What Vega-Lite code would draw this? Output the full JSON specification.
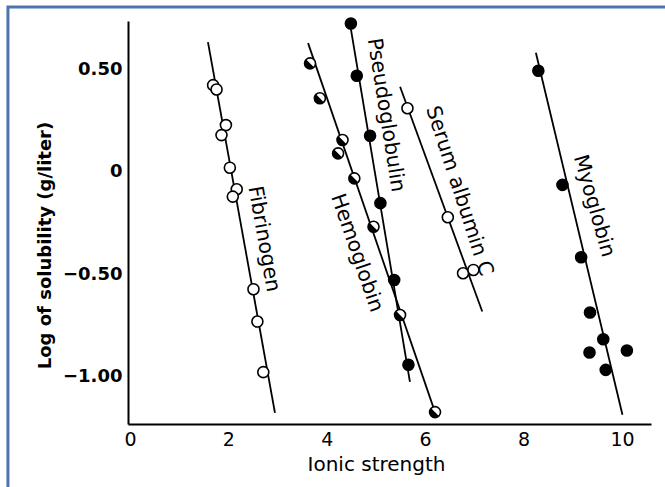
{
  "$schema": "https://vega.github.io/schema/vega-lite/v6.json",
  "width": 523,
  "height": 403,
  "autosize": {"type": "none"},
  "padding": {"left": 128, "top": 21, "right": 14, "bottom": 63},
  "background": "white",
  "config": {"view": {"stroke": null}, "font": "DejaVu Sans"},
  "datasets": {
    "points": [
      {"protein": "Fibrinogen", "kind": "open", "ionic": 1.69, "logsol": 0.424},
      {"protein": "Fibrinogen", "kind": "open", "ionic": 1.76, "logsol": 0.403},
      {"protein": "Fibrinogen", "kind": "open", "ionic": 1.95, "logsol": 0.229},
      {"protein": "Fibrinogen", "kind": "open", "ionic": 1.86, "logsol": 0.18},
      {"protein": "Fibrinogen", "kind": "open", "ionic": 2.03, "logsol": 0.021},
      {"protein": "Fibrinogen", "kind": "open", "ionic": 2.17, "logsol": -0.084},
      {"protein": "Fibrinogen", "kind": "open", "ionic": 2.09, "logsol": -0.12},
      {"protein": "Fibrinogen", "kind": "open", "ionic": 2.51, "logsol": -0.572},
      {"protein": "Fibrinogen", "kind": "open", "ionic": 2.59, "logsol": -0.73},
      {"protein": "Fibrinogen", "kind": "open", "ionic": 2.71, "logsol": -0.977},
      {"protein": "Hemoglobin", "kind": "half", "ionic": 3.66, "logsol": 0.53},
      {"protein": "Hemoglobin", "kind": "half", "ionic": 3.86, "logsol": 0.36},
      {"protein": "Hemoglobin", "kind": "half", "ionic": 4.32, "logsol": 0.156},
      {"protein": "Hemoglobin", "kind": "half", "ionic": 4.23, "logsol": 0.091},
      {"protein": "Hemoglobin", "kind": "half", "ionic": 4.56, "logsol": -0.031},
      {"protein": "Hemoglobin", "kind": "half", "ionic": 4.95, "logsol": -0.267},
      {"protein": "Hemoglobin", "kind": "half", "ionic": 5.49, "logsol": -0.698},
      {"protein": "Hemoglobin", "kind": "half", "ionic": 6.2, "logsol": -1.172},
      {"protein": "Pseudoglobulin", "kind": "filled", "ionic": 4.49, "logsol": 0.725},
      {"protein": "Pseudoglobulin", "kind": "filled", "ionic": 4.61, "logsol": 0.47},
      {"protein": "Pseudoglobulin", "kind": "filled", "ionic": 4.88, "logsol": 0.177},
      {"protein": "Pseudoglobulin", "kind": "filled", "ionic": 5.09, "logsol": -0.152},
      {"protein": "Pseudoglobulin", "kind": "filled", "ionic": 5.37, "logsol": -0.527},
      {"protein": "Pseudoglobulin", "kind": "filled", "ionic": 5.66, "logsol": -0.941},
      {"protein": "Serum albumin C", "kind": "open", "ionic": 5.64, "logsol": 0.311},
      {"protein": "Serum albumin C", "kind": "open", "ionic": 6.46, "logsol": -0.221},
      {"protein": "Serum albumin C", "kind": "open", "ionic": 6.77, "logsol": -0.494},
      {"protein": "Serum albumin C", "kind": "open", "ionic": 6.98, "logsol": -0.478},
      {"protein": "Myoglobin", "kind": "filled", "ionic": 8.3, "logsol": 0.494},
      {"protein": "Myoglobin", "kind": "filled", "ionic": 8.79, "logsol": -0.063},
      {"protein": "Myoglobin", "kind": "filled", "ionic": 9.17, "logsol": -0.416},
      {"protein": "Myoglobin", "kind": "filled", "ionic": 9.35, "logsol": -0.686},
      {"protein": "Myoglobin", "kind": "filled", "ionic": 9.62, "logsol": -0.816},
      {"protein": "Myoglobin", "kind": "filled", "ionic": 9.34, "logsol": -0.881},
      {"protein": "Myoglobin", "kind": "filled", "ionic": 10.1, "logsol": -0.871},
      {"protein": "Myoglobin", "kind": "filled", "ionic": 9.67, "logsol": -0.966}
    ],
    "lines": [
      {"protein": "Fibrinogen", "ionic": 1.585, "logsol": 0.634},
      {"protein": "Fibrinogen", "ionic": 2.947, "logsol": -1.176},
      {"protein": "Hemoglobin", "ionic": 3.62, "logsol": 0.629},
      {"protein": "Hemoglobin", "ionic": 6.2, "logsol": -1.172},
      {"protein": "Pseudoglobulin", "ionic": 4.47, "logsol": 0.727},
      {"protein": "Pseudoglobulin", "ionic": 5.69, "logsol": -1.024},
      {"protein": "Serum albumin C", "ionic": 5.49, "logsol": 0.416},
      {"protein": "Serum albumin C", "ionic": 7.16, "logsol": -0.681},
      {"protein": "Myoglobin", "ionic": 8.25, "logsol": 0.582},
      {"protein": "Myoglobin", "ionic": 10.01, "logsol": -1.185}
    ],
    "labels": [
      {"protein": "Fibrinogen", "ionic": 2.72, "logsol": -0.327},
      {"protein": "Pseudoglobulin", "ionic": 5.2, "logsol": 0.278},
      {"protein": "Hemoglobin", "ionic": 4.61, "logsol": -0.395},
      {"protein": "Serum albumin C", "ionic": 6.69, "logsol": -0.093},
      {"protein": "Myoglobin", "ionic": 9.43, "logsol": -0.166}
    ]
  },
  "layer": [
    {
      "data": {"values": [{}]},
      "mark": {"type": "rect", "fill": null, "stroke": "#4f72b0", "strokeWidth": 3, "clip": false},
      "encoding": {
        "x": {"datum": -2.48, "type": "quantitative", "scale": {"domain": [-0.04, 10.59], "nice": false, "zero": false}},
        "x2": {"datum": 11.3},
        "y": {"datum": 0.805, "type": "quantitative", "scale": {"domain": [-1.23, 0.737], "nice": false, "zero": false}},
        "y2": {"datum": -1.7}
      }
    },
    {
      "data": {"name": "lines"},
      "mark": {"type": "line", "color": "black", "strokeWidth": 1.8},
      "encoding": {
        "x": {"field": "ionic", "type": "quantitative", "scale": {"domain": [-0.04, 10.59], "nice": false, "zero": false},
          "axis": {"title": "Ionic strength", "values": [0, 2, 4, 6, 8, 10], "ticks": false, "grid": false, "domainColor": "black", "domainWidth": 2,
            "labelFont": "DejaVu Sans", "labelFontSize": 19, "labelColor": "black", "labelPadding": 6,
            "titleFont": "DejaVu Sans", "titleFontSize": 20, "titleFontWeight": "normal", "titleColor": "black", "titlePadding": 5, "titleX": 248}},
        "y": {"field": "logsol", "type": "quantitative", "scale": {"domain": [-1.23, 0.737], "nice": false, "zero": false},
          "axis": {"title": "Log of solubility (g/liter)", "values": [0.5, 0, -0.5, -1], "ticks": false, "grid": false, "domainColor": "black", "domainWidth": 2,
            "labelExpr": "datum.value == 0 ? '0' : format(datum.value, '.2f')",
            "labelFont": "DejaVu Sans", "labelFontSize": 18, "labelFontWeight": "bold", "labelColor": "black", "labelPadding": 6,
            "titleFont": "DejaVu Sans", "titleFontSize": 18, "titleFontWeight": "bold", "titleColor": "black", "titleX": -74, "titleY": 224}},
        "detail": {"field": "protein"}
      }
    },
    {
      "data": {"name": "points"},
      "mark": {"type": "point", "shape": "circle", "size": 121, "stroke": "black", "strokeWidth": 1.6, "opacity": 1},
      "encoding": {
        "x": {"field": "ionic", "type": "quantitative"},
        "y": {"field": "logsol", "type": "quantitative"},
        "fill": {"field": "kind", "type": "nominal", "scale": {"domain": ["open", "half", "filled"], "range": ["white", "white", "black"]}, "legend": null}
      }
    },
    {
      "data": {"name": "points"},
      "transform": [{"filter": "datum.kind == 'half'"}],
      "mark": {"type": "point", "shape": "M -0.707 -0.707 A 1 1 0 0 0 0.707 0.707 Z", "size": 121, "fill": "black", "filled": true, "strokeWidth": 0, "opacity": 1},
      "encoding": {
        "x": {"field": "ionic", "type": "quantitative"},
        "y": {"field": "logsol", "type": "quantitative"}
      }
    },
    {
      "data": {"name": "labels"},
      "transform": [{"filter": "datum.protein == 'Fibrinogen'"}],
      "mark": {"type": "text", "angle": 80, "font": "DejaVu Sans", "fontSize": 20.5, "color": "black", "align": "center", "baseline": "middle"},
      "encoding": {"x": {"field": "ionic", "type": "quantitative"}, "y": {"field": "logsol", "type": "quantitative"}, "text": {"field": "protein"}}
    },
    {
      "data": {"name": "labels"},
      "transform": [{"filter": "datum.protein == 'Pseudoglobulin'"}],
      "mark": {"type": "text", "angle": 81, "font": "DejaVu Sans", "fontSize": 20.5, "color": "black", "align": "center", "baseline": "middle"},
      "encoding": {"x": {"field": "ionic", "type": "quantitative"}, "y": {"field": "logsol", "type": "quantitative"}, "text": {"field": "protein"}}
    },
    {
      "data": {"name": "labels"},
      "transform": [{"filter": "datum.protein == 'Hemoglobin'"}],
      "mark": {"type": "text", "angle": 71, "font": "DejaVu Sans", "fontSize": 20.5, "color": "black", "align": "center", "baseline": "middle"},
      "encoding": {"x": {"field": "ionic", "type": "quantitative"}, "y": {"field": "logsol", "type": "quantitative"}, "text": {"field": "protein"}}
    },
    {
      "data": {"name": "labels"},
      "transform": [{"filter": "datum.protein == 'Serum albumin C'"}],
      "mark": {"type": "text", "angle": 72, "font": "DejaVu Sans", "fontSize": 20.5, "color": "black", "align": "center", "baseline": "middle"},
      "encoding": {"x": {"field": "ionic", "type": "quantitative"}, "y": {"field": "logsol", "type": "quantitative"}, "text": {"field": "protein"}}
    },
    {
      "data": {"name": "labels"},
      "transform": [{"filter": "datum.protein == 'Myoglobin'"}],
      "mark": {"type": "text", "angle": 74, "font": "DejaVu Sans", "fontSize": 20.5, "color": "black", "align": "center", "baseline": "middle"},
      "encoding": {"x": {"field": "ionic", "type": "quantitative"}, "y": {"field": "logsol", "type": "quantitative"}, "text": {"field": "protein"}}
    }
  ]
}
